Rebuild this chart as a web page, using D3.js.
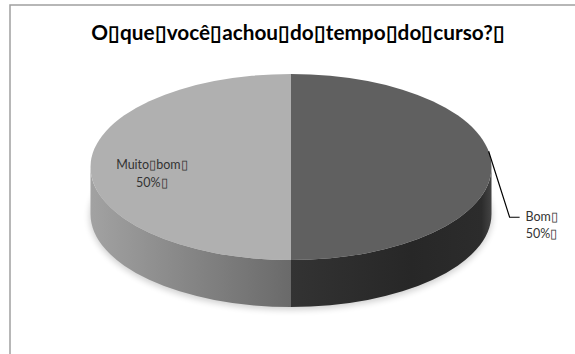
<!DOCTYPE html>
<html><head><meta charset="utf-8">
<script src="https://cdn.jsdelivr.net/npm/d3@7"></script>
<style>html,body{margin:0;padding:0;background:#fff;}</style>
</head><body>
<script>
const title = "O\u25AFque\u25AFvocê\u25AFachou\u25AFdo\u25AFtempo\u25AFdo\u25AFcurso?\u25AF";
const categories = ["Bom\u25AF", "Muito\u25AFbom\u25AF"];
const values = [50, 50];
const percentLabels = ["50%\u25AF", "50%\u25AF"];

const W = 575, H = 354;
const cx = 291, cy = 167, rx = 200.5, ry = 93, depth = 47;
const topColors = ["#606060", "#b0b0b0"];

const svg = d3.select("body").append("svg").attr("width", W).attr("height", H);
const defs = svg.append("defs");

// gradients for side walls
const gL = defs.append("linearGradient").attr("id","gL").attr("gradientUnits","userSpaceOnUse")
  .attr("x1", cx - rx).attr("x2", cx).attr("y1",0).attr("y2",0);
gL.append("stop").attr("offset","0").attr("stop-color","#a2a2a2");
gL.append("stop").attr("offset","0.5").attr("stop-color","#858585");
gL.append("stop").attr("offset","1").attr("stop-color","#6a6a6a");
const gR = defs.append("linearGradient").attr("id","gR").attr("gradientUnits","userSpaceOnUse")
  .attr("x1", cx).attr("x2", cx + rx).attr("y1",0).attr("y2",0);
gR.append("stop").attr("offset","0").attr("stop-color","#333333");
gR.append("stop").attr("offset","0.6").attr("stop-color","#272727");
gR.append("stop").attr("offset","0.95").attr("stop-color","#2c2c2c");
gR.append("stop").attr("offset","1").attr("stop-color","#444444");
const sideFills = ["url(#gR)", "url(#gL)"];

const blur = defs.append("filter").attr("id","sh").attr("x","-20%").attr("y","-20%").attr("width","140%").attr("height","160%");
blur.append("feGaussianBlur").attr("stdDeviation", 3);

// frame
svg.append("path").attr("d", `M10,${H+5} L10,5 L${W+5},5`)
  .attr("fill","none").attr("stroke","#a0a0a0").attr("stroke-width",1.5);

// title
const t = svg.append("text").attr("x", 298).attr("y", 40).attr("text-anchor","middle")
  .attr("font-family","Lato, 'Open Sans', sans-serif").attr("font-weight","bold")
  .attr("font-size", 18).attr("fill","#000").text(title);
const tw = t.node().getComputedTextLength();
t.attr("font-size", 18 * 410 / tw);

const pie = d3.pie().sort(null).value(d => d);
const arcs = pie(values);
const P = (a, dy=0) => [cx + rx * Math.sin(a), cy - ry * Math.cos(a) + dy];

// shadow
svg.append("ellipse").attr("cx", cx).attr("cy", cy + depth + 2).attr("rx", rx + 1).attr("ry", ry + 1)
  .attr("fill", "#000").attr("opacity", 0.18).attr("filter","url(#sh)");

// side walls (front half: angles PI/2..3PI/2)
arcs.forEach((d, i) => {
  const a0 = Math.max(d.startAngle, Math.PI/2), a1 = Math.min(d.endAngle, 3*Math.PI/2);
  if (a1 <= a0) return;
  const p0 = P(a0), p1 = P(a1), q1 = P(a1, depth), q0 = P(a0, depth);
  const path = `M${p0} A${rx},${ry} 0 0 1 ${p1} L${q1} A${rx},${ry} 0 0 0 ${q0} Z`;
  svg.append("path").attr("d", path).attr("fill", sideFills[i]);
});

// top slices
arcs.forEach((d, i) => {
  const p0 = P(d.startAngle), p1 = P(d.endAngle);
  const large = (d.endAngle - d.startAngle) > Math.PI ? 1 : 0;
  svg.append("path").attr("d", `M${cx},${cy} L${p0} A${rx},${ry} 0 ${large} 1 ${p1} Z`)
    .attr("fill", topColors[i]);
});

// labels
const lf = "Lato, 'Open Sans', sans-serif";
// Muito bom (inside)
{
  const d = arcs[1], mid = (d.startAngle + d.endAngle)/2;
  const [x, y] = [cx + rx*0.694*Math.sin(mid), cy - ry*0.694*Math.cos(mid)];
  const g = svg.append("text").attr("text-anchor","middle").attr("font-family", lf)
    .attr("font-size", 12.5).attr("fill","#333");
  g.append("tspan").attr("x", x).attr("y", y + 2).text(categories[1]);
  g.append("tspan").attr("x", x).attr("y", y + 20).text(percentLabels[1]);
}
// Bom (outside with leader)
{
  const d = arcs[0], mid = (d.startAngle + d.endAngle)/2;
  const s = P(mid - 0.17);
  const elbow = [s[0] + 21, s[1] + 66];
  svg.append("path").attr("d", `M${s} L${elbow} L${elbow[0] + 10},${elbow[1]}`)
    .attr("fill","none").attr("stroke","#000").attr("stroke-width",1.2);
  const g = svg.append("text").attr("text-anchor","middle").attr("font-family", lf)
    .attr("font-size", 12.5).attr("fill","#333");
  g.append("tspan").attr("x", elbow[0] + 32).attr("y", elbow[1] + 4).text(categories[0]);
  g.append("tspan").attr("x", elbow[0] + 32).attr("y", elbow[1] + 21).text(percentLabels[0]);
}
</script>
</body></html>
